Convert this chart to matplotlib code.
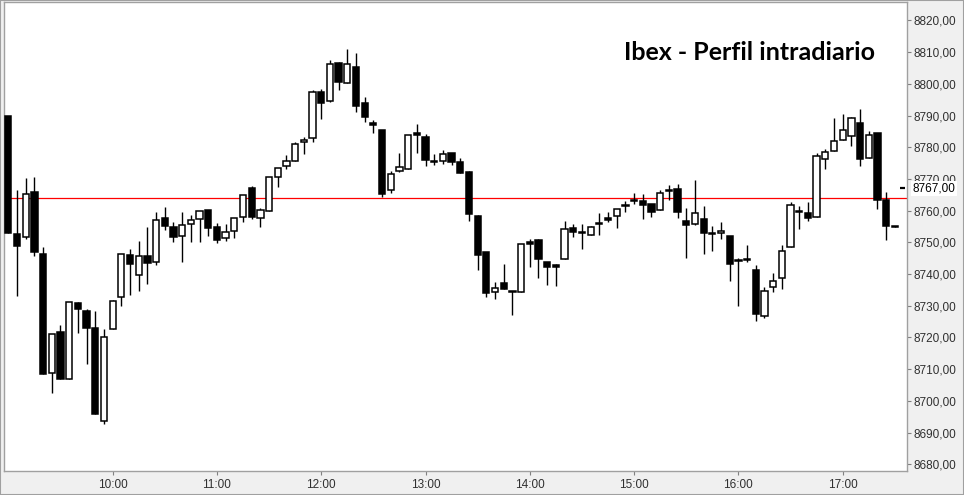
import matplotlib
matplotlib.use("Agg")
import matplotlib.pyplot as plt
from matplotlib.patches import Rectangle
from matplotlib.ticker import FuncFormatter, FixedLocator
import matplotlib.transforms as mtransforms

# =========================
# DATA (5-minute candles, 9:00 -> 17:30)
# =========================

opens = [
    8790.0, 8752.7, 8751.6, 8766.0, 8746.4, 8708.7, 8721.7, 8706.8, 8730.9, 8728.4,
    8723.0, 8693.7, 8722.8, 8732.7, 8745.9, 8739.6, 8745.6, 8743.7, 8757.6, 8754.8,
    8752.0, 8755.7, 8757.3, 8760.2, 8754.8, 8751.3, 8753.7, 8758.0, 8767.1, 8757.6,
    8759.9, 8770.6, 8774.1, 8775.7, 8781.7, 8782.9, 8797.5, 8794.6, 8806.6, 8800.3,
    8805.4, 8794.0, 8787.7, 8785.5, 8766.5, 8772.5, 8773.1, 8784.2, 8783.2, 8775.7,
    8775.7, 8778.2, 8775.3, 8772.2, 8758.3, 8746.9, 8734.4, 8737.1, 8734.8, 8734.4,
    8750.1, 8750.7, 8743.7, 8742.9, 8744.7, 8754.5, 8753.3, 8752.3, 8756.1, 8757.5,
    8758.3, 8761.9, 8763.4, 8763.0, 8762.1, 8760.2, 8766.5, 8766.9, 8756.7, 8755.7,
    8757.3, 8752.9, 8752.9, 8752.0, 8744.4, 8744.7, 8741.2, 8726.7, 8735.8, 8738.9,
    8748.5, 8759.9, 8759.2, 8758.0, 8776.3, 8778.8, 8782.3, 8783.6, 8787.7, 8776.6,
    8784.5, 8763.3, 8755.1,
]

highs = [
    8790.0, 8766.6, 8770.3, 8770.7, 8748.6, 8721.0, 8723.9, 8731.2, 8731.2, 8729.0,
    8728.4, 8722.8, 8731.8, 8746.3, 8747.9, 8750.5, 8754.9, 8759.5, 8761.3, 8756.5,
    8759.5, 8758.7, 8759.9, 8760.2, 8756.1, 8755.7, 8757.6, 8764.9, 8767.9, 8760.8,
    8770.6, 8773.4, 8777.6, 8781.7, 8783.2, 8798.1, 8798.4, 8807.6, 8806.9, 8811.1,
    8809.8, 8795.9, 8788.6, 8785.5, 8772.5, 8778.2, 8783.9, 8787.4, 8784.2, 8777.9,
    8779.1, 8778.2, 8776.6, 8772.5, 8758.6, 8746.9, 8737.4, 8743.2, 8734.8, 8749.4,
    8751.0, 8751.0, 8743.7, 8743.2, 8756.8, 8755.7, 8755.7, 8755.1, 8759.2, 8759.5,
    8760.5, 8763.0, 8765.5, 8765.2, 8762.1, 8766.5, 8768.1, 8768.4, 8760.8, 8769.7,
    8761.4, 8755.1, 8756.4, 8752.0, 8745.0, 8749.1, 8742.8, 8735.8, 8740.3, 8749.2,
    8762.7, 8761.4, 8762.7, 8778.2, 8779.5, 8789.2, 8790.5, 8789.6, 8792.1, 8785.1,
    8784.5, 8765.9, 8755.1,
]

lows = [
    8753.0, 8733.2, 8751.0, 8745.8, 8708.4, 8702.5, 8706.8, 8706.8, 8721.3, 8711.8,
    8696.0, 8692.8, 8722.8, 8730.0, 8733.5, 8734.6, 8737.0, 8743.0, 8753.9, 8750.2,
    8743.7, 8750.2, 8750.2, 8752.1, 8749.7, 8750.4, 8751.5, 8756.3, 8757.3, 8754.8,
    8759.9, 8767.4, 8773.1, 8775.7, 8777.9, 8781.7, 8788.9, 8794.3, 8798.1, 8800.3,
    8791.1, 8788.0, 8784.5, 8764.3, 8765.5, 8772.2, 8773.1, 8778.2, 8774.1, 8774.4,
    8774.7, 8774.4, 8771.9, 8756.7, 8741.4, 8732.9, 8732.2, 8735.2, 8727.2, 8734.4,
    8742.3, 8738.9, 8736.7, 8736.3, 8744.7, 8751.8, 8748.0, 8752.3, 8752.3, 8756.3,
    8754.4, 8759.7, 8762.1, 8757.5, 8758.0, 8760.2, 8763.3, 8757.6, 8745.0, 8755.4,
    8746.3, 8747.2, 8751.0, 8737.7, 8729.8, 8743.7, 8725.1, 8726.0, 8734.3, 8735.2,
    8748.5, 8754.2, 8756.7, 8758.0, 8773.1, 8778.8, 8782.3, 8780.4, 8774.1, 8776.6,
    8760.5, 8750.7, 8754.8,
]

closes = [
    8753.0, 8748.7, 8765.2, 8747.1, 8708.4, 8721.0, 8706.8, 8731.2, 8729.1, 8723.1,
    8696.0, 8720.3, 8731.4, 8746.3, 8743.1, 8745.6, 8743.4, 8757.0, 8755.1, 8751.8,
    8755.4, 8757.0, 8759.9, 8754.5, 8750.7, 8753.2, 8757.6, 8764.9, 8758.0, 8760.2,
    8770.6, 8773.4, 8775.7, 8781.0, 8782.3, 8797.5, 8794.0, 8806.3, 8800.6, 8806.3,
    8793.0, 8789.6, 8787.0, 8765.2, 8771.5, 8773.8, 8783.9, 8783.9, 8776.0, 8775.3,
    8777.9, 8775.3, 8771.9, 8758.8, 8746.1, 8734.1, 8735.5, 8735.2, 8734.3, 8749.4,
    8749.6, 8744.6, 8742.3, 8742.3, 8754.2, 8753.4, 8752.9, 8754.8, 8755.7, 8757.1,
    8760.5, 8761.4, 8762.9, 8761.9, 8759.5, 8765.5, 8766.2, 8759.5, 8755.4, 8759.2,
    8752.9, 8752.6, 8753.5, 8743.1, 8744.1, 8744.4, 8727.3, 8734.6, 8737.7, 8747.2,
    8761.8, 8759.5, 8757.6, 8777.2, 8778.5, 8782.0, 8785.5, 8789.2, 8776.3, 8783.9,
    8763.3, 8755.1, 8754.8,
]

ref_level = 8764.0
last_price = 8767.0

time_ticks = [12, 24, 36, 48, 60, 72, 84, 96]
time_labels = ["10:00", "11:00", "12:00", "13:00", "14:00", "15:00", "16:00", "17:00"]
price_ticks = list(range(8680, 8821, 10))

# =========================
# FIGURE
# =========================

W, H = 964, 495
fig = plt.figure(figsize=(W / 100, H / 100), dpi=100, facecolor="#f0f0f0")

ax = fig.add_axes([4 / W, 1 - 471 / H, (907 - 4) / W, (471 - 2) / H])
ax.set_facecolor("white")

# =========================
# CANDLES
# =========================

x = list(range(len(opens)))

ax.vlines(x, lows, highs, color="black", linewidth=1.0, zorder=2)

for i in x:
    o, c = opens[i], closes[i]
    bottom = min(o, c)
    height = max(abs(c - o), 0.45)
    up = c >= o
    ax.bar(
        i, height, bottom=bottom, width=0.72,
        facecolor="white" if up else "black",
        edgecolor="black", linewidth=1.1, zorder=3
    )

# reference line
ax.axhline(ref_level, color="#ff0000", linewidth=0.9, zorder=1)

# last price marker
ax.hlines(last_price, 102.55, 103.15, color="black", linewidth=1.6, zorder=4)

# =========================
# AXES
# =========================

ax.set_xlim(-0.5, 103.4)
ax.set_ylim(8677.9, 8825.8)

ax.yaxis.tick_right()
ax.yaxis.set_major_locator(FixedLocator(price_ticks))
ax.yaxis.set_major_formatter(FuncFormatter(lambda v, p: f"{v:.2f}".replace(".", ",")))
ax.set_xticks(time_ticks)
ax.set_xticklabels(time_labels)

ax.tick_params(axis="y", direction="out", length=3, width=0.8, color="#808080",
               pad=1.5, labelsize=8.5, labelcolor="#303030")
ax.tick_params(axis="x", direction="out", length=3, width=0.8, color="#808080",
               pad=2.5, labelsize=8.5, labelcolor="#303030")

for lab in ax.get_yticklabels():
    lab.set_family("Liberation Sans")
for lab in ax.get_xticklabels():
    lab.set_family(["Liberation Sans Narrow", "Liberation Sans"])

for s in ax.spines.values():
    s.set_color("#a0a0a0")
    s.set_linewidth(1.0)

# last price label on the axis (covers part of the 8770 label, as in the source)
trans = mtransforms.blended_transform_factory(ax.transAxes, ax.transData)
ax.text(1.006, last_price, "8767,00", transform=trans, ha="left", va="center",
        fontsize=8.5, family="Liberation Sans", color="black", zorder=10,
        clip_on=False,
        bbox=dict(boxstyle="square,pad=0.15", facecolor="white", edgecolor="none"))

# =========================
# TITLE
# =========================

fig.text(749 / W, 1 - 52 / H, "Ibex - Perfil intradiario",
         ha="center", va="center", fontsize=18, fontweight="bold",
         family="Lato", color="black")

# outer frame
fig.patches.append(Rectangle((0, 0), 1, 1, transform=fig.transFigure,
                             fill=False, edgecolor="#a0a0a0", linewidth=1.5))

fig.savefig("out.png", dpi=100, facecolor=fig.get_facecolor())
